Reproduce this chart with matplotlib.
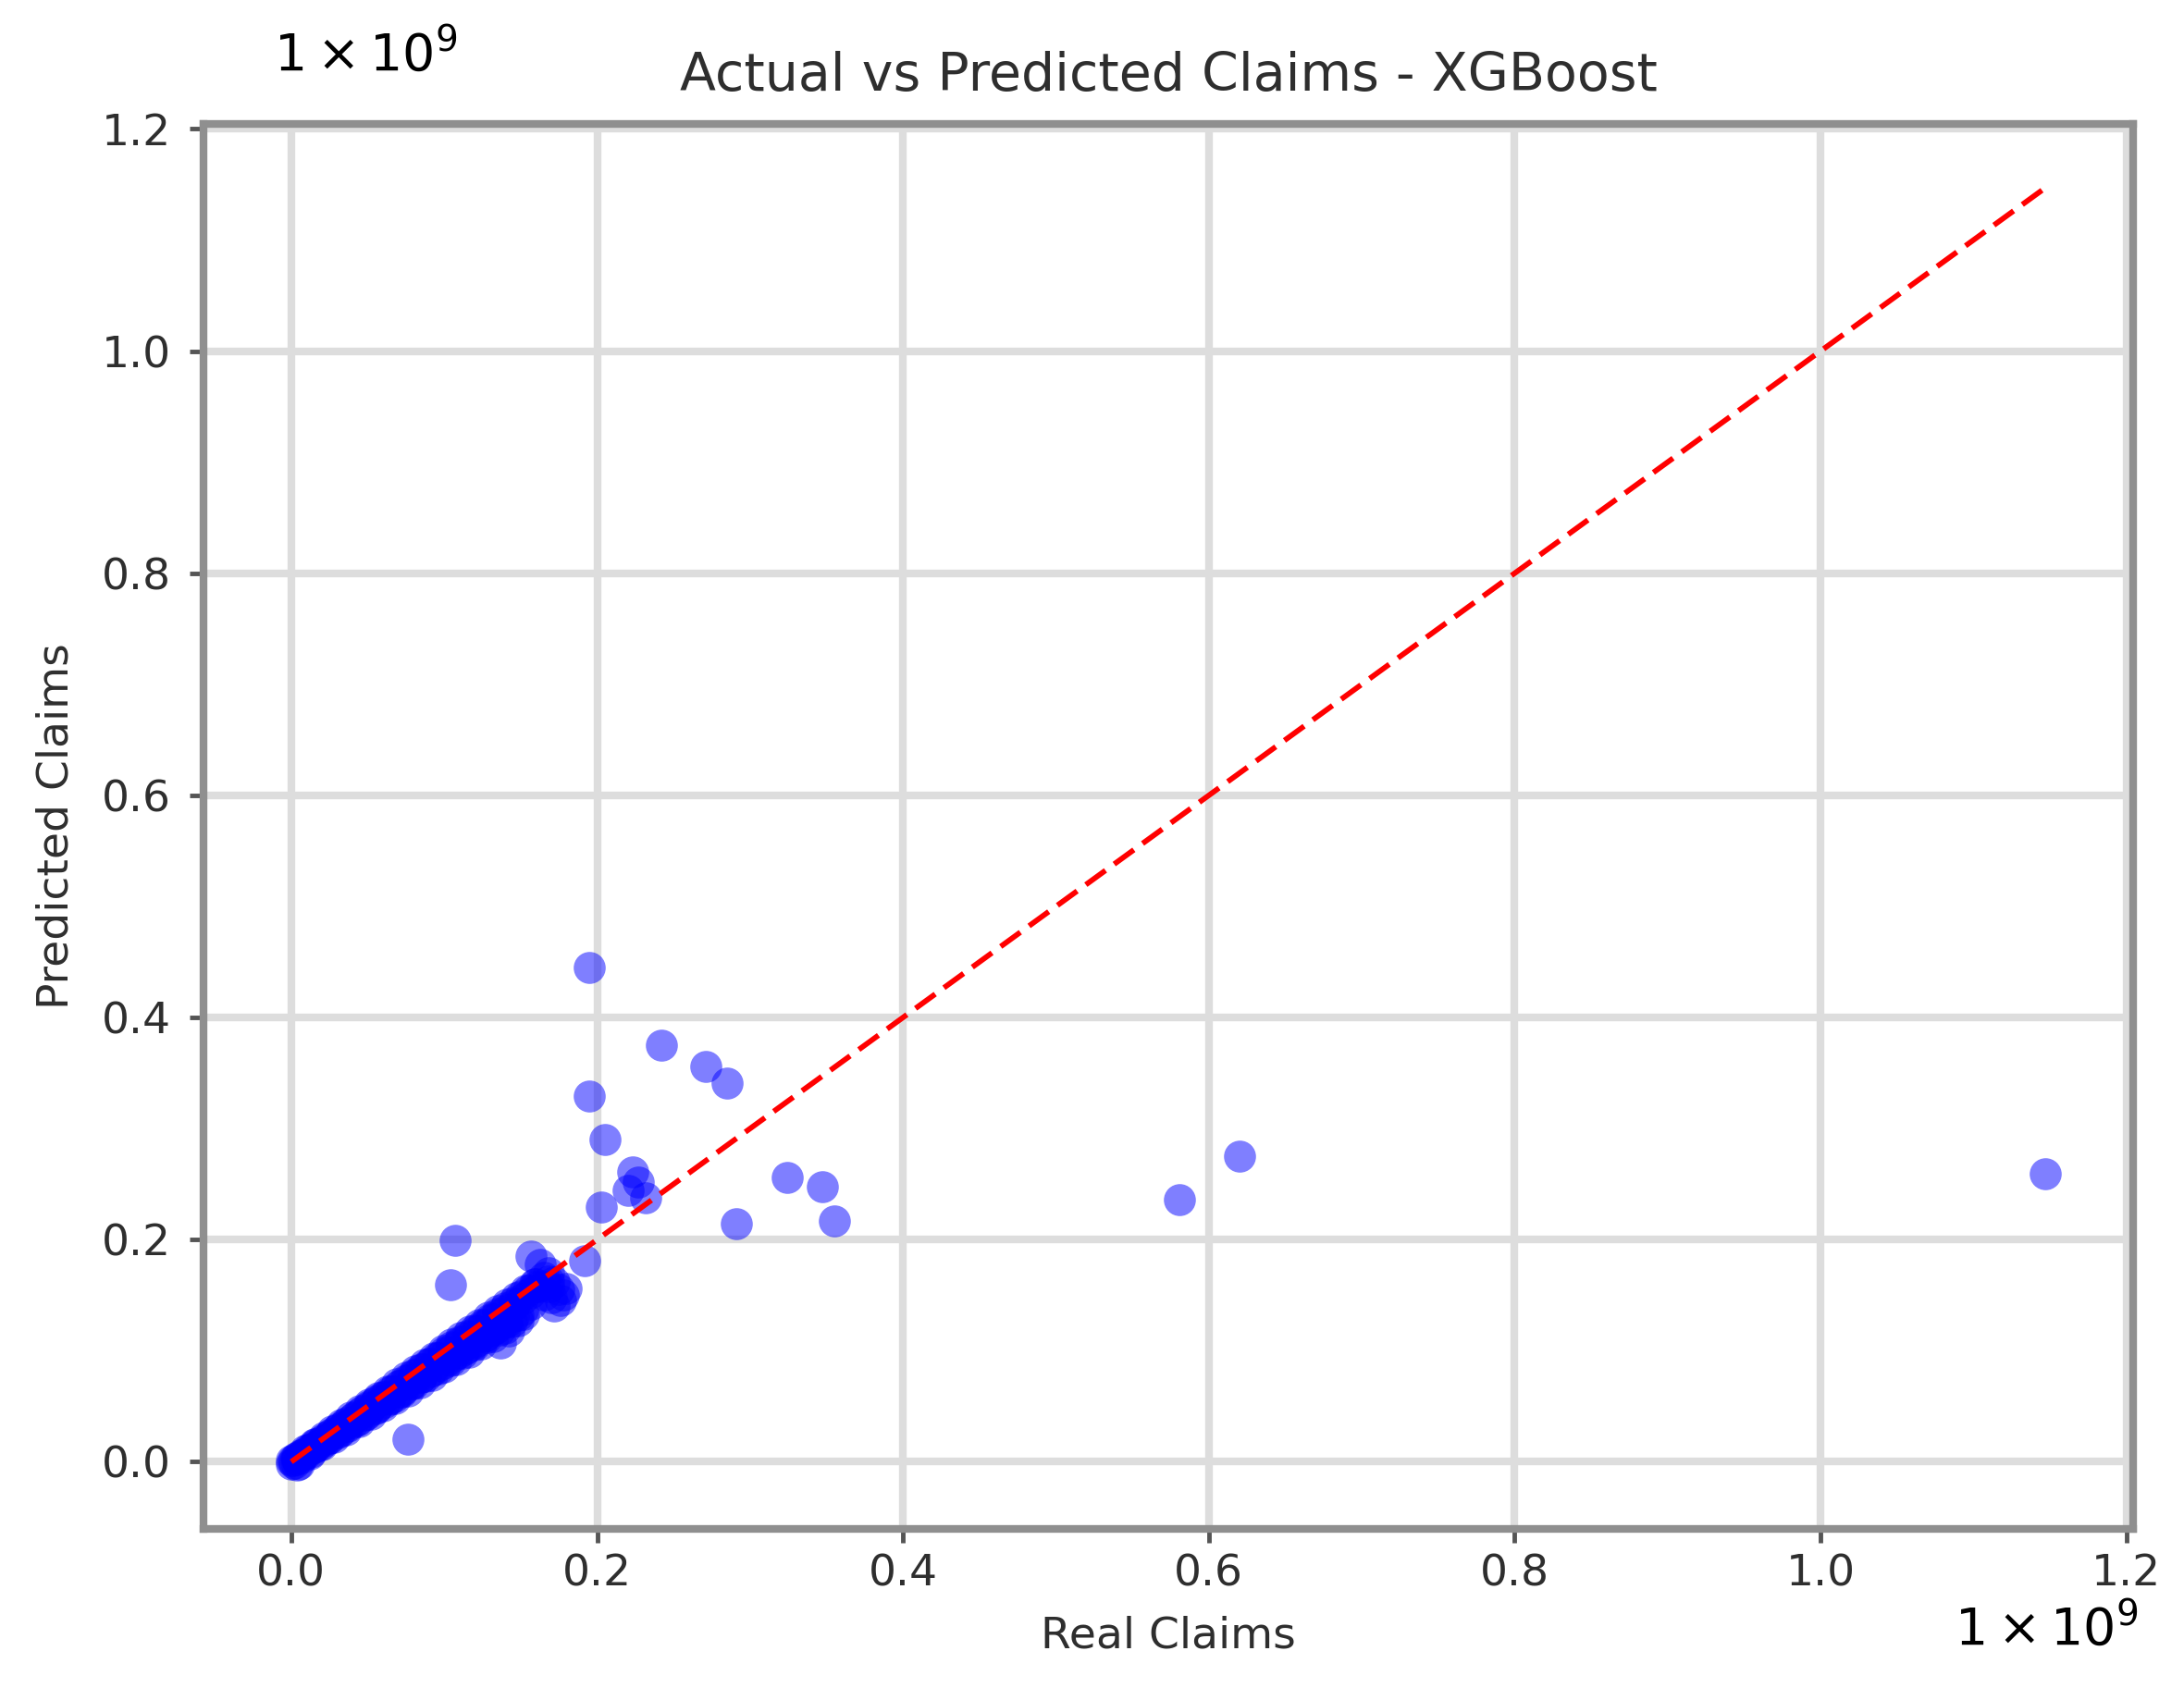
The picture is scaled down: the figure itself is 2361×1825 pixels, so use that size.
import matplotlib
matplotlib.use("Agg")
import matplotlib.pyplot as plt
import numpy as np

# ---- data (units of 1e9) ----
# dense band close to the diagonal
band_top_x = [0.003,0.009,0.015,0.021,0.027,0.033,0.039,0.045,0.051,0.057,0.063,0.069,0.075,0.081,0.087,0.093,0.099,0.105,0.111,0.117,0.123,0.129,0.135,0.141,0.147,0.153,0.159,0.165]
band_top_y = [0.004,0.010,0.016,0.022,0.028,0.034,0.040,0.046,0.052,0.058,0.064,0.070,0.076,0.082,0.088,0.094,0.100,0.106,0.112,0.118,0.124,0.130,0.136,0.142,0.148,0.154,0.160,0.166]
band_upper_x = [0.000,0.004,0.008,0.012,0.016,0.020,0.025,0.030,0.035,0.040,0.045,0.050,0.055,0.060,0.065,0.070,0.075,0.080,0.085,0.090,0.095,0.100,0.105,0.110,0.115,0.120,0.125,0.130,0.135,0.140,0.145,0.150,0.155,0.160]
band_upper_y = [0.001,0.004,0.007,0.011,0.015,0.019,0.024,0.029,0.034,0.039,0.044,0.049,0.054,0.059,0.064,0.069,0.074,0.079,0.084,0.089,0.094,0.099,0.104,0.109,0.114,0.119,0.124,0.129,0.134,0.139,0.144,0.149,0.154,0.158]
band_second_x = [0.001,0.006,0.011,0.016,0.021,0.026,0.031,0.036,0.041,0.046,0.051,0.056,0.061,0.066,0.071,0.076,0.081,0.086,0.091,0.096,0.101,0.106,0.111,0.116,0.121,0.126,0.131,0.136,0.141,0.146,0.151,0.156,0.162,0.168]
band_second_y = [0.001,0.006,0.011,0.016,0.020,0.025,0.030,0.035,0.040,0.045,0.050,0.055,0.059,0.064,0.069,0.074,0.079,0.084,0.089,0.094,0.098,0.103,0.108,0.113,0.118,0.123,0.128,0.133,0.137,0.142,0.147,0.152,0.158,0.163]
band_mid_x = [0.002,0.007,0.013,0.019,0.025,0.031,0.037,0.043,0.049,0.055,0.061,0.067,0.073,0.079,0.085,0.091,0.097,0.103,0.109,0.115,0.121,0.127,0.133,0.139,0.145,0.151,0.157]
band_mid_y = [-0.001,0.004,0.009,0.015,0.021,0.026,0.032,0.037,0.043,0.048,0.054,0.059,0.065,0.070,0.076,0.081,0.087,0.092,0.098,0.103,0.109,0.114,0.120,0.125,0.131,0.137,0.142]
band_fourth_x = [0.004,0.009,0.015,0.022,0.029,0.036,0.043,0.050,0.057,0.064,0.071,0.078,0.085,0.092,0.099,0.106,0.113,0.120,0.127,0.134,0.141,0.148]
band_fourth_y = [0.002,0.007,0.013,0.019,0.026,0.032,0.038,0.045,0.051,0.057,0.063,0.070,0.076,0.082,0.089,0.095,0.101,0.107,0.114,0.120,0.126,0.132]
band_fifth_x = [0.008,0.016,0.024,0.032,0.040,0.048,0.056,0.064,0.072,0.080,0.088,0.096,0.104,0.112,0.120,0.128,0.136,0.144,0.152]
band_fifth_y = [0.007,0.014,0.021,0.028,0.035,0.042,0.049,0.056,0.063,0.070,0.077,0.084,0.091,0.098,0.105,0.112,0.119,0.126,0.133]
band_lower_x = [0.005,0.012,0.020,0.028,0.036,0.044,0.052,0.060,0.068,0.076,0.084,0.092,0.100,0.108,0.116,0.124,0.132,0.140]
band_lower_y = [-0.002,0.007,0.015,0.022,0.029,0.036,0.043,0.050,0.057,0.064,0.071,0.078,0.085,0.092,0.099,0.106,0.113,0.120]
# blob near 0.15-0.19
blob_x = [0.157,0.163,0.168,0.172,0.175,0.178,0.170,0.165,0.172,0.176,0.160,0.168,0.180,0.192,0.137,0.130,0.000,0.004,0.142,0.148]
blob_y = [0.185,0.178,0.170,0.162,0.155,0.150,0.148,0.150,0.140,0.145,0.160,0.158,0.156,0.181,0.107,0.118,-0.002,-0.003,0.118,0.127]
# scattered points
outlier_x = [0.076,0.104,0.107,0.195,0.242,0.271,0.285,0.195,0.205,0.223,0.220,0.232,0.227,0.203,0.324,0.347,0.355,0.291,0.581,0.620,1.147]
outlier_y = [0.020,0.159,0.199,0.445,0.375,0.356,0.341,0.329,0.290,0.261,0.244,0.238,0.252,0.229,0.256,0.248,0.217,0.214,0.236,0.275,0.259]

actual = np.array(band_top_x + band_upper_x + band_second_x + band_mid_x + band_fourth_x
                  + band_fifth_x + band_lower_x + blob_x + outlier_x)
predicted = np.array(band_top_y + band_upper_y + band_second_y + band_mid_y + band_fourth_y
                     + band_fifth_y + band_lower_y + blob_y + outlier_y)

title = "Actual vs Predicted Claims - XGBoost"
xlabel = "Real Claims"
ylabel = "Predicted Claims"
scale_text = r"$1\times10^{9}$"

txt = "#2e2e2e"
fig = plt.figure(figsize=(23.61, 18.25), dpi=100)
ax = fig.add_axes([0.0932, 0.0942, 0.8835, 0.8324])
ax.set_axisbelow(True)

ax.scatter(actual, predicted, s=620, c="blue", alpha=0.5, linewidths=0)
hi = actual.max()
ax.plot([0.0, hi], [0.0, hi], color="red", lw=4.2, linestyle=(0, (4.5, 2.0)))

ax.grid(True, color="#dddddd", lw=6)
for sp in ax.spines.values():
    sp.set_color("#8f8f8f")
    sp.set_linewidth(6)

ax.tick_params(axis="both", labelsize=34, colors="#555555", labelcolor=txt,
               length=11, width=3.5)
ax.tick_params(axis="x", pad=8)
ax.tick_params(axis="y", pad=14)

ax.set_title(title, fontsize=41, color=txt, pad=26)
ax.set_xlabel(xlabel, fontsize=34, color=txt, labelpad=16)
ax.set_ylabel(ylabel, fontsize=34, color=txt, labelpad=19)

fig.text(395 / 2361, 1 - 60 / 1825, scale_text, fontsize=40, color="black",
         ha="center", va="center")
fig.text(2212 / 2361, 1 - 1762 / 1825, scale_text, fontsize=40, color="black",
         ha="center", va="center")

fig.savefig("out.png", dpi=100)
